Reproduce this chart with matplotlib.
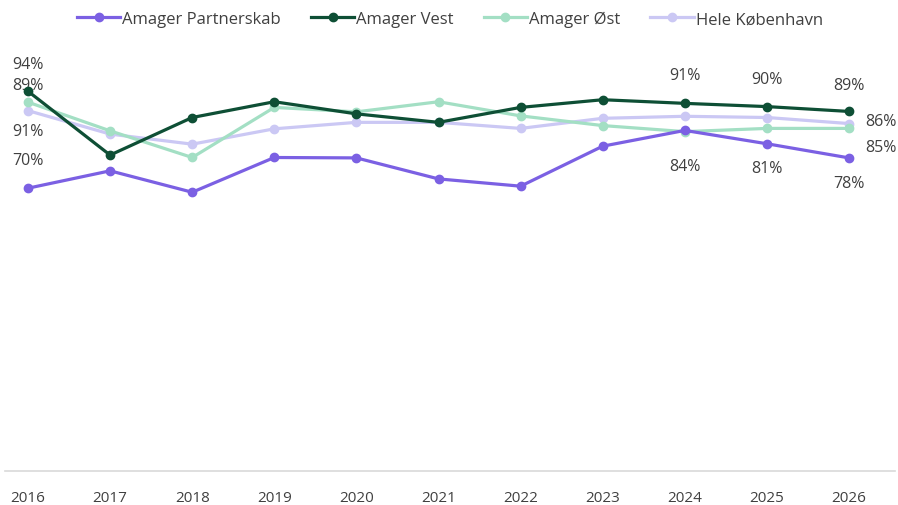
import matplotlib.pyplot as plt

years = [2016, 2017, 2018, 2019, 2020, 2021, 2022, 2023, 2024, 2025, 2026]
partnerskab = [0.70, 0.743, 0.69, 0.776, 0.775, 0.723, 0.705, 0.804, 0.843, 0.81, 0.775]
vest = [0.94, 0.782, 0.875, 0.914, 0.884, 0.863, 0.90, 0.919, 0.91, 0.902, 0.89]
oest = [0.913, 0.842, 0.776, 0.90, 0.889, 0.914, 0.879, 0.855, 0.84, 0.848, 0.848]
hele = [0.892, 0.834, 0.809, 0.847, 0.863, 0.863, 0.848, 0.873, 0.878, 0.875, 0.86]

names = ["Amager Partnerskab", "Amager Vest", "Amager Øst", "Hele København"]
colors = ["#7b60e3", "#0e4f35", "#a3dfc4", "#cbc8f4"]

plt.rcParams['font.family'] = ['Open Sans', 'DejaVu Sans']

fig = plt.figure(figsize=(8.98, 5.06), dpi=100)
ax = fig.add_axes([5 / 898, 1 - 472 / 506, 890 / 898, 404 / 506])

series = [partnerskab, vest, oest, hele]
# light lines first, dark ones on top
order = [3, 2, 0, 1]
lines = {}
for i in order:
    ln, = ax.plot(years, series[i], color=colors[i], lw=2.3, marker='o', ms=6,
                  label=names[i], zorder=3 + order.index(i), clip_on=False)
    lines[i] = ln

ax.set_xlim(2015.72, 2026.56)
ax.set_ylim(0, 1)
ax.set_yticks([])
ax.set_xticks(years)
ax.set_xticklabels([str(y) for y in years], fontsize=11, color='#404040')
ax.tick_params(axis='x', length=0, pad=14)
for s in ['top', 'right', 'left']:
    ax.spines[s].set_visible(False)
ax.spines['bottom'].set_color('#d9d9d9')
ax.spines['bottom'].set_linewidth(1.2)

# data labels: (series index, year index, dx px, dy px)
labels = [
    (1, 0, 0, 27), (3, 0, 0, 26), (2, 0, 0, -29), (0, 0, 0, 28),
    (1, 8, 0, 28), (0, 8, 0, -36),
    (1, 9, 0, 28), (0, 9, 0, -24),
    (1, 10, 0, 26), (3, 10, 32, 3), (2, 10, 32, -19), (0, 10, 0, -25),
]
for si, yi, dx, dy in labels:
    v = series[si][yi]
    ax.annotate(f"{round(v * 100):.0f}%", (years[yi], v), xytext=(dx, dy),
                textcoords='offset pixels', ha='center', va='center',
                fontsize=11.5, color='#404040', annotation_clip=False)

handles = [lines[i] for i in range(4)]
fig.legend(handles, names, loc='center', bbox_to_anchor=(0.501, 1 - 20 / 506), ncol=4,
           frameon=False, fontsize=12, handlelength=2.6, handletextpad=0.12,
           columnspacing=1.8, labelcolor='#404040')

fig.savefig('out.png', dpi=100)
